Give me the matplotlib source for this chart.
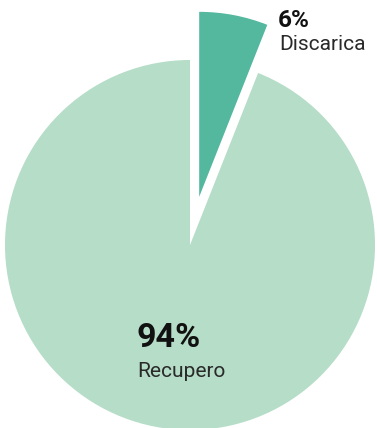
"""
Waste destination pie chart
"""
import matplotlib.pyplot as plt

plt.rcParams['font.family'] = ['Roboto', 'DejaVu Sans']

# destination shares (%)
labels = ["Recupero", "Discarica"]
shares = [94, 6]
colors = ["#b5ddc8", "#53b89e"]

fig = plt.figure(figsize=(3.77, 4.28), dpi=100)
ax = fig.add_axes([0, 0, 1, 1])

# radius in pixels, Discarica pulled out of the pie
radius = 185
wedges, _ = ax.pie(shares[::-1], colors=colors[::-1], radius=radius,
                   startangle=90, counterclock=False,
                   explode=[0.265 * radius, 0],
                   wedgeprops=dict(linewidth=0))

ax.set_xlim(-190, 187)
ax.set_ylim(-183, 245)
ax.set_aspect('equal')
ax.axis('off')

# labels: bold percentage with the name below
ax.text(88, 218, f"{shares[1]}%", fontsize=17.5, fontweight='bold',
        ha='left', va='baseline', color='#111111')
ax.text(89, 195, labels[1], fontsize=15, fontweight='normal',
        ha='left', va='baseline', color='#2a2a2a')
ax.text(-53, -102, f"{shares[0]}%", fontsize=24.5, fontweight='bold',
        ha='left', va='baseline', color='#111111')
ax.text(-53, -132, labels[0], fontsize=15, fontweight='normal',
        ha='left', va='baseline', color='#2a2a2a')

plt.savefig("out.png", dpi=100)
